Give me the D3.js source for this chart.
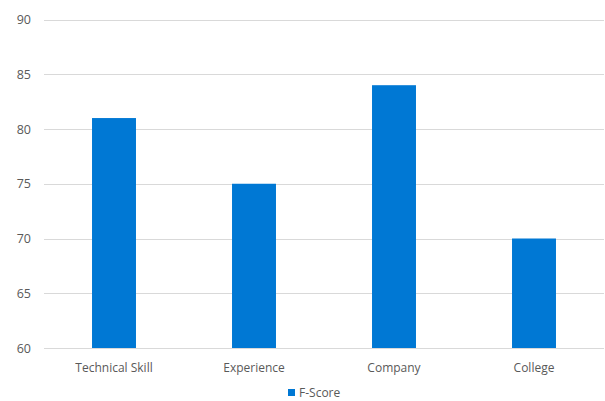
<!DOCTYPE html>
<html>
<head>
<meta charset="utf-8">
<script src="https://cdn.jsdelivr.net/npm/d3@7"></script>
<style>
  html, body { margin: 0; padding: 0; background: #fff; }
  svg { display: block; }
  svg text { font-family: "Open Sans", "Noto Sans", sans-serif; }
</style>
</head>
<body>
<svg id="chart" width="605" height="401"></svg>
<script>
// F-Score by factor
const categories = ["Technical Skill", "Experience", "Company", "College"];
const fScore = [81, 75, 84, 70];
const yTicks = [60, 65, 70, 75, 80, 85, 90];
const seriesName = "F-Score";

const svg = d3.select("#chart");
const margin = { left: 44, right: 1, top: 19.5, bottom: 53 };
const W = 605, H = 401;
const FONT = '"Open Sans", "Noto Sans", sans-serif';

const x = d3.scaleBand()
  .domain(categories)
  .range([margin.left, W - margin.right])
  .padding(0);

const y = d3.scaleLinear()
  .domain([60, 90])
  .range([H - margin.bottom, margin.top]);

const barFrac = 0.314;
const barColor = "#0078d4";
const textColor = "#595959";

// horizontal gridlines
svg.append("g")
  .selectAll("line")
  .data(yTicks)
  .join("line")
  .attr("x1", margin.left)
  .attr("x2", W - margin.right)
  .attr("y1", d => Math.round(y(d)) + 0.5)
  .attr("y2", d => Math.round(y(d)) + 0.5)
  .attr("stroke", "#d9d9d9")
  .attr("stroke-width", 1);

// y axis labels
const yAxis = d3.axisLeft(y).tickValues(yTicks).tickSize(0).tickPadding(13);
const gy = svg.append("g")
  .attr("transform", `translate(${margin.left},0)`)
  .call(yAxis)
  .attr("font-family", FONT);
gy.select(".domain").remove();
gy.selectAll("text")
  .attr("fill", textColor)
  .attr("font-size", "12.5px");

// bars
svg.append("g")
  .selectAll("rect")
  .data(categories.map((c, i) => ({ c, v: fScore[i] })))
  .join("rect")
  .attr("x", d => x(d.c) + x.bandwidth() * (1 - barFrac) / 2)
  .attr("width", x.bandwidth() * barFrac)
  .attr("y", d => y(d.v))
  .attr("height", d => y(60) - y(d.v))
  .attr("fill", barColor);

// x axis labels
const xAxis = d3.axisBottom(x).tickSize(0).tickPadding(15);
const gx = svg.append("g")
  .attr("transform", `translate(0,${y(60)})`)
  .call(xAxis)
  .attr("font-family", FONT);
gx.select(".domain").remove();
gx.selectAll("text")
  .attr("fill", textColor)
  .attr("font-size", "12px");

// legend
const legend = svg.append("g").attr("transform", "translate(288,393)");
legend.append("rect")
  .attr("x", 0).attr("y", -4)
  .attr("width", 7).attr("height", 7)
  .attr("fill", barColor);
legend.append("text")
  .attr("x", 11).attr("y", 0)
  .attr("dy", "0.35em")
  .attr("fill", textColor)
  .attr("font-family", FONT)
  .attr("font-size", "12px")
  .text(seriesName);
</script>
</body>
</html>
